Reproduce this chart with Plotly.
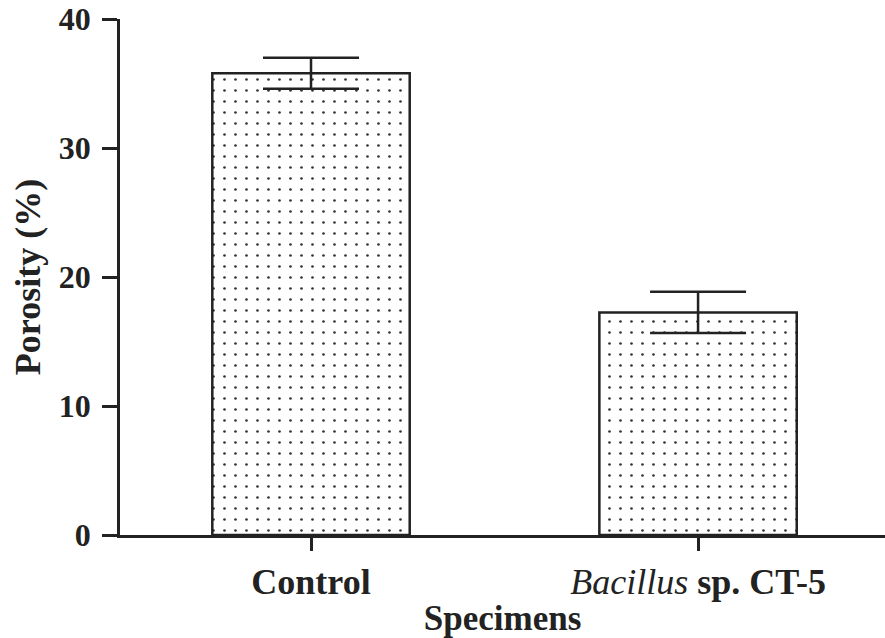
import plotly.graph_objects as go

categories = ["Control", "Bacillus sp. CT-5"]
tick_text = ["Control", "<span style='font-weight:normal'><i>Bacillus</i></span> sp. CT-5"]
porosity = [35.8, 17.25]
porosity_err = [1.2, 1.6]
y_ticks = [0, 10, 20, 30, 40]

FONT = "Liberation Serif, Times New Roman, serif"

fig = go.Figure()
fig.add_trace(go.Bar(
    x=categories,
    y=porosity,
    width=0.51,
    marker=dict(
        color="white",
        line=dict(color="#222222", width=2.5),
        pattern=dict(shape=".", size=11, solidity=0.045, fgcolor="#333333",
                     bgcolor="white", fillmode="replace"),
    ),
    error_y=dict(type="data", array=porosity_err, visible=True,
                 color="#222222", thickness=2.5, width=48),
))

fig.update_layout(
    width=885, height=638,
    margin=dict(l=120, r=0, t=19, b=103),
    paper_bgcolor="white", plot_bgcolor="white",
    showlegend=False,
    font=dict(family=FONT, color="#222222", size=32, weight="bold"),
    xaxis=dict(
        range=[-0.4935, 1.483],
        automargin=False,
        tickmode="array", tickvals=categories, ticktext=tick_text,
        showline=True, linecolor="#222222", linewidth=2.5,
        ticks="outside", ticklen=13, tickwidth=2.5, tickcolor="#222222",
        tickfont=dict(family=FONT, size=36, weight="bold"),
        ticklabelstandoff=0,
        showgrid=False, zeroline=False,
        title=dict(text="Specimens", font=dict(family=FONT, size=35, weight="bold"), standoff=14),
    ),
    yaxis=dict(
        range=[0, 40],
        automargin=False,
        tickmode="array", tickvals=y_ticks,
        showline=True, linecolor="#222222", linewidth=2.5,
        ticks="outside", ticklen=15, tickwidth=2.5, tickcolor="#222222",
        tickfont=dict(family=FONT, size=32, weight="bold"),
        ticklabelstandoff=5,
        showgrid=False, zeroline=False,
        title=dict(text="Porosity (%)", font=dict(family=FONT, size=36, weight="bold"), standoff=8),
    ),
)

fig.write_html("out.html", config={"displayModeBar": False},
               post_script="document.body.style.margin='0';")
